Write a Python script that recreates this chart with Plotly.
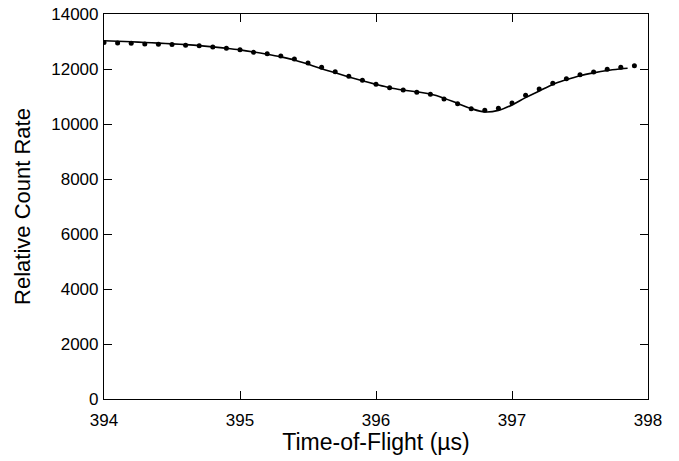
import plotly.graph_objects as go

# Measured data points (time-of-flight in microseconds, relative count rate)
tof = [394.0, 394.1, 394.2, 394.3, 394.4, 394.5, 394.6, 394.7, 394.8, 394.9,
       395.0, 395.1, 395.2, 395.3, 395.4, 395.5, 395.6, 395.7, 395.8, 395.9,
       396.0, 396.1, 396.2, 396.3, 396.4, 396.5, 396.6, 396.7, 396.8, 396.9,
       397.0, 397.1, 397.2, 397.3, 397.4, 397.5, 397.6, 397.7, 397.8, 397.9]
counts = [12965, 12945, 12935, 12910, 12900, 12895, 12860, 12845, 12800, 12755,
          12700, 12605, 12555, 12475, 12365, 12220, 12060, 11900, 11735, 11590,
          11445, 11320, 11235, 11155, 11080, 10910, 10740, 10555, 10500, 10570,
          10765, 11045, 11275, 11480, 11645, 11795, 11890, 11990, 12060, 12120]

# Fitted curve
fit_tof = [394.0, 394.1, 394.2, 394.3, 394.4, 394.5, 394.6, 394.7, 394.8, 394.9,
           395.0, 395.1, 395.2, 395.3, 395.4, 395.5, 395.6, 395.7, 395.8, 395.9,
           396.0, 396.1, 396.2, 396.3, 396.4, 396.5, 396.6, 396.7, 396.8, 396.9,
           397.0, 397.1, 397.2, 397.3, 397.4, 397.5, 397.6, 397.7, 397.8, 397.85]
fit_counts = [13030, 13010, 12990, 12965, 12940, 12915, 12885, 12850, 12805, 12755,
              12695, 12620, 12535, 12440, 12330, 12170, 12010, 11860, 11710, 11570,
              11440, 11320, 11235, 11170, 11090, 10940, 10750, 10560, 10440, 10495,
              10690, 10960, 11200, 11440, 11610, 11755, 11860, 11945, 12005, 12030]

x_ticks = [394, 395, 396, 397, 398]
y_ticks = [0, 2000, 4000, 6000, 8000, 10000, 12000, 14000]

FONT = "Liberation Sans, Arial, Helvetica, sans-serif"

fig = go.Figure()
fig.add_trace(go.Scatter(x=fit_tof, y=fit_counts, mode="lines",
                         line=dict(color="black", width=1.6, shape="spline"),
                         hoverinfo="skip", showlegend=False))
fig.add_trace(go.Scatter(x=tof, y=counts, mode="markers",
                         marker=dict(color="black", size=5),
                         showlegend=False))

axis_common = dict(showline=True, linecolor="black", linewidth=1.2, mirror="ticks",
                   ticks="inside", ticklen=8, tickwidth=1.2, tickcolor="black",
                   showgrid=False, zeroline=False, automargin=False,
                   tickfont=dict(family=FONT, size=17, color="black"))

fig.update_layout(
    width=679, height=461,
    margin=dict(l=104, r=31, t=14, b=62),
    paper_bgcolor="white", plot_bgcolor="white",
    font=dict(family=FONT, color="black"),
    xaxis=dict(range=[394, 398], tickvals=x_ticks, ticktext=[str(v) for v in x_ticks],
               ticklabelstandoff=5,
               title=dict(text="Time-of-Flight (µs)", font=dict(family=FONT, size=23), standoff=2),
               **axis_common),
    yaxis=dict(range=[0, 14000], tickvals=y_ticks, ticktext=[str(v) for v in y_ticks],
               ticklabelstandoff=1,
               title=dict(text="Relative Count Rate", font=dict(family=FONT, size=22), standoff=14),
               **axis_common),
)

fig.write_html("out.html", config={"displayModeBar": False},
               post_script="document.body.style.margin='0';")
